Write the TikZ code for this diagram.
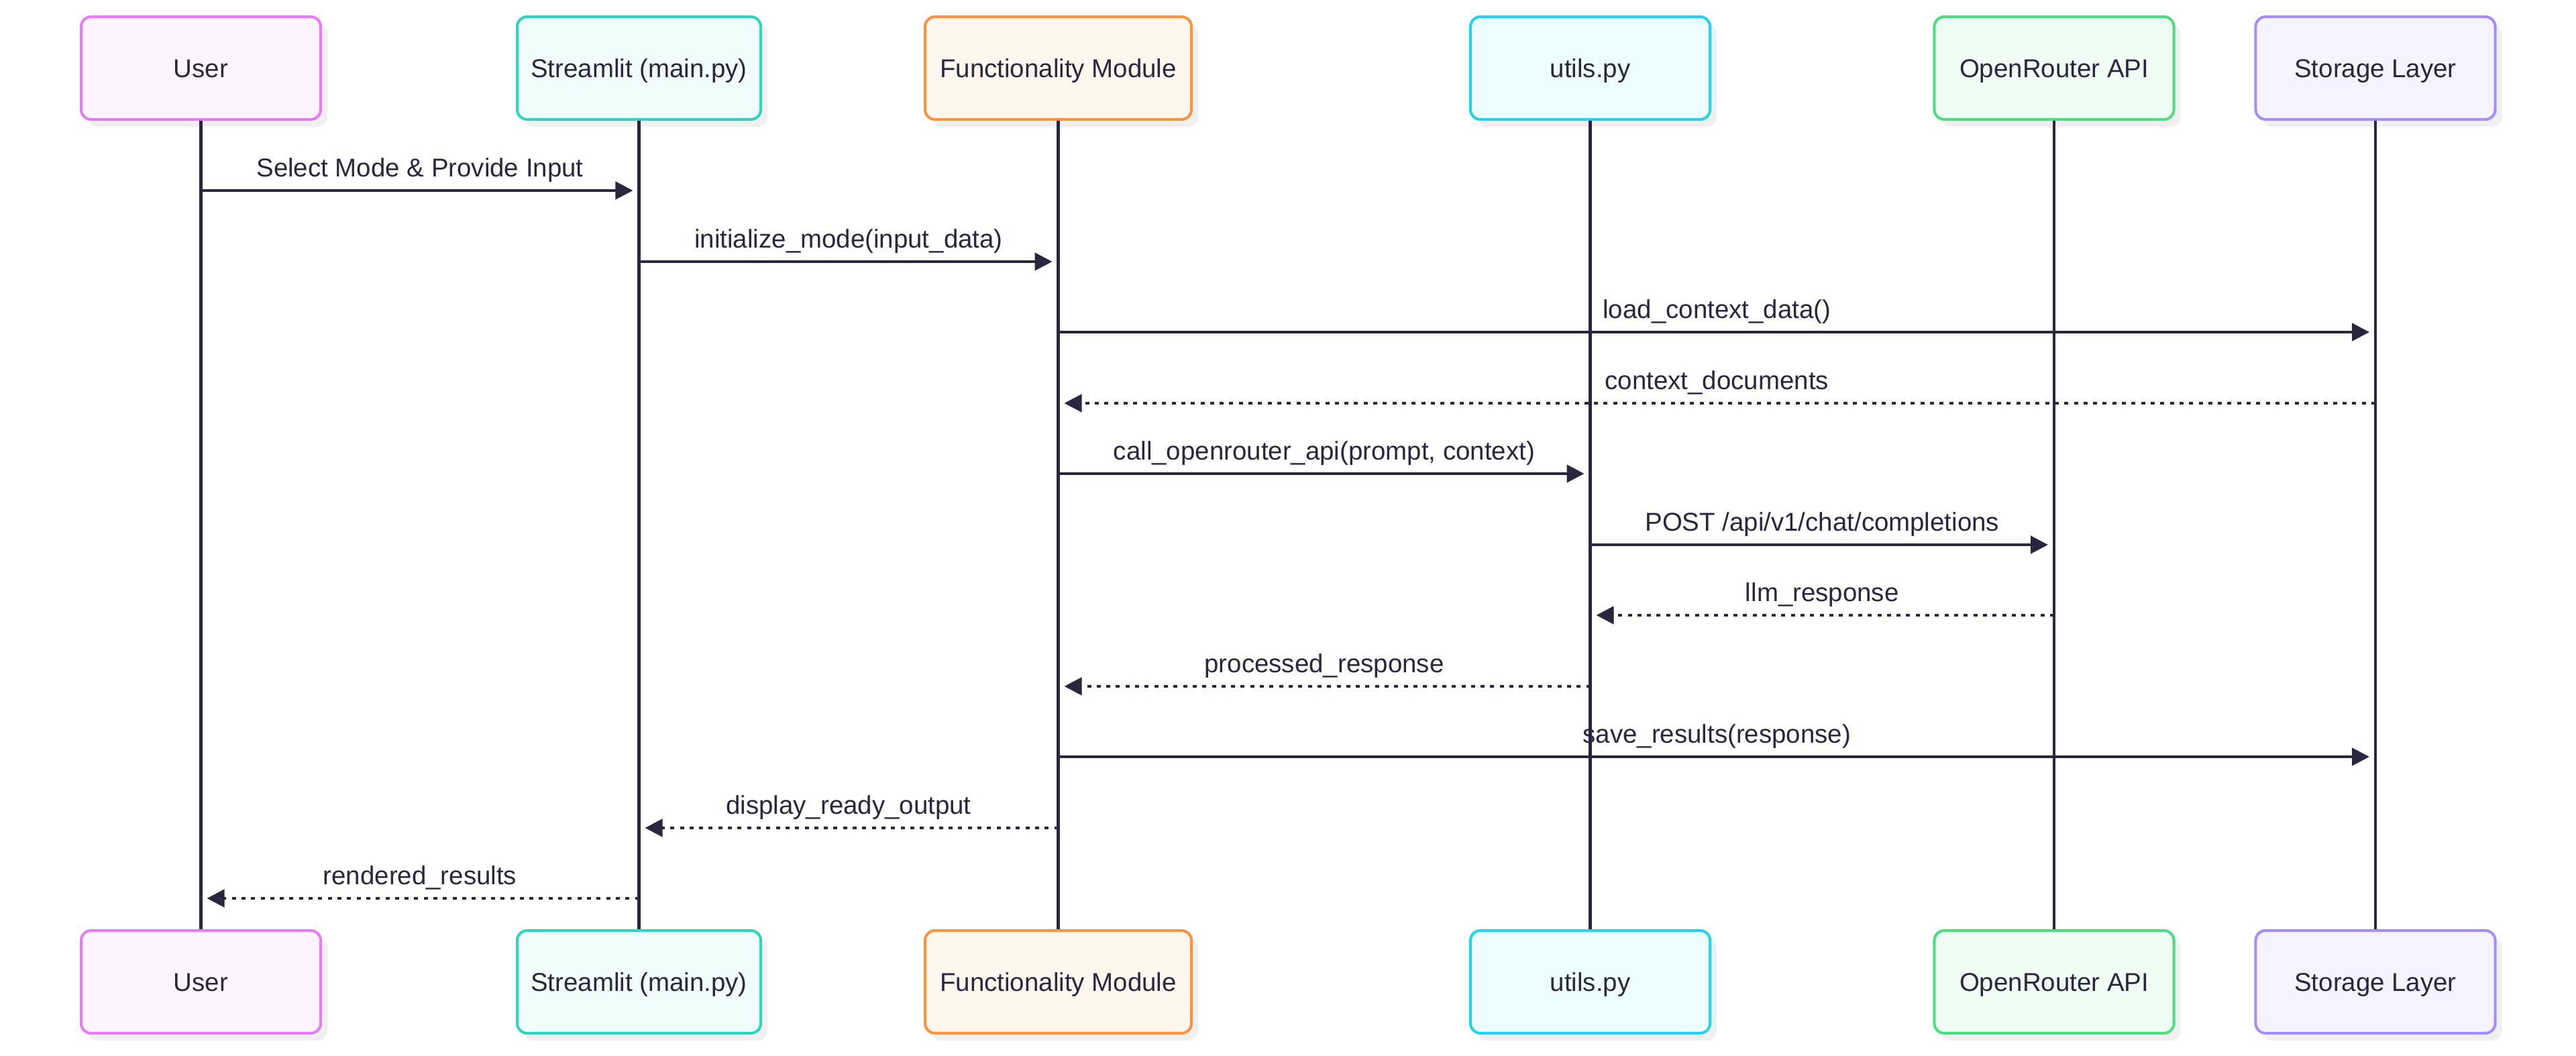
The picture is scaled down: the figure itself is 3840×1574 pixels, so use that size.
\documentclass[tikz,border=0pt]{standalone}
\usepackage{fontspec}
\setmainfont{Liberation Sans}
\usetikzlibrary{arrows.meta,shadows}
\definecolor{ink}{RGB}{41,38,61}
\definecolor{userS}{HTML}{E879F9}\definecolor{userF}{HTML}{FDF4FF}
\definecolor{strS}{HTML}{2DD4BF}\definecolor{strF}{HTML}{F0FDFA}
\definecolor{funS}{HTML}{FB923C}\definecolor{funF}{HTML}{FFF7ED}
\definecolor{utlS}{HTML}{22D3EE}\definecolor{utlF}{HTML}{ECFEFF}
\definecolor{apiS}{HTML}{4ADE80}\definecolor{apiF}{HTML}{F0FDF4}
\definecolor{stoS}{HTML}{A78BFA}\definecolor{stoF}{HTML}{F5F3FF}
\begin{document}
\begin{tikzpicture}[x=0.01cm,y=-0.01cm,
  font=\fontsize{10.93pt}{13pt}\selectfont,
  part/.style={draw, line width=0.04cm, rounded corners=0.15cm,
    minimum width=3.57cm, minimum height=1.53cm, inner sep=0pt,
    text height=0.275cm, text depth=0cm, text=ink,
    drop shadow={shadow xshift=0.1cm, shadow yshift=-0.11cm, fill=black!6, opacity=1}},
  life/.style={draw=ink, line width=0.047cm},
  msg/.style={draw=ink, line width=0.047cm, -{Triangle[length=0.26cm,width=0.26cm]}, shorten >=0.09cm},
  ret/.style={msg, dash pattern=on 0.06cm off 0.083cm},
  lbl/.style={text=ink, inner sep=0pt, anchor=base, midway, yshift=0.2cm}]
\useasboundingbox (0,0) rectangle (3840,1574);
\fill[white] (0,0) rectangle (3840,1574);
% top participants
\node[part, draw=userS, fill=userF] (user) at (299.5,101.5) {User};
\node[part, draw=strS, fill=strF, minimum width=3.63cm] (stream) at (952.5,101.5) {Streamlit (main.py)};
\node[part, draw=funS, fill=funF, minimum width=3.97cm] (func) at (1577.5,101.5) {Functionality Module};
\node[part, draw=utlS, fill=utlF] (utils) at (2370.5,101.5) {utils.py};
\node[part, draw=apiS, fill=apiF] (api) at (3062,101.5) {OpenRouter API};
\node[part, draw=stoS, fill=stoF] (store) at (3541,101.5) {Storage Layer};
% bottom participants
\node[part, draw=userS, fill=userF] (userB) at (299.5,1463.5) {User};
\node[part, draw=strS, fill=strF, minimum width=3.63cm] (streamB) at (952.5,1463.5) {Streamlit (main.py)};
\node[part, draw=funS, fill=funF, minimum width=3.97cm] (funcB) at (1577.5,1463.5) {Functionality Module};
\node[part, draw=utlS, fill=utlF] (utilsB) at (2370.5,1463.5) {utils.py};
\node[part, draw=apiS, fill=apiF] (apiB) at (3062,1463.5) {OpenRouter API};
\node[part, draw=stoS, fill=stoF] (storeB) at (3541,1463.5) {Storage Layer};
% lifelines
\draw[life] (user.south) -- (userB.north);
\draw[life] (stream.south) -- (streamB.north);
\draw[life] (func.south) -- (funcB.north);
\draw[life] (utils.south) -- (utilsB.north);
\draw[life] (api.south) -- (apiB.north);
\draw[life] (store.south) -- (storeB.north);
% messages
\draw[msg] (user |- 0,284) -- node[lbl]{Select Mode \& Provide Input} (stream |- 0,284);
\draw[msg] (stream |- 0,390) -- node[lbl]{initialize\_mode(input\_data)} (func |- 0,390);
\draw[msg] (func |- 0,495) -- node[lbl]{load\_context\_data()} (store |- 0,495);
\draw[ret] (store |- 0,601) -- node[lbl]{context\_documents} (func |- 0,601);
\draw[msg] (func |- 0,706) -- node[lbl]{call\_openrouter\_api(prompt, context)} (utils |- 0,706);
\draw[msg] (utils |- 0,812) -- node[lbl]{POST /api/v1/chat/completions} (api |- 0,812);
\draw[ret] (api |- 0,917) -- node[lbl]{llm\_response} (utils |- 0,917);
\draw[ret] (utils |- 0,1023) -- node[lbl]{processed\_response} (func |- 0,1023);
\draw[msg] (func |- 0,1128) -- node[lbl]{save\_results(response)} (store |- 0,1128);
\draw[ret] (func |- 0,1234) -- node[lbl]{display\_ready\_output} (stream |- 0,1234);
\draw[ret] (stream |- 0,1339) -- node[lbl]{rendered\_results} (user |- 0,1339);
\end{tikzpicture}
\end{document}
